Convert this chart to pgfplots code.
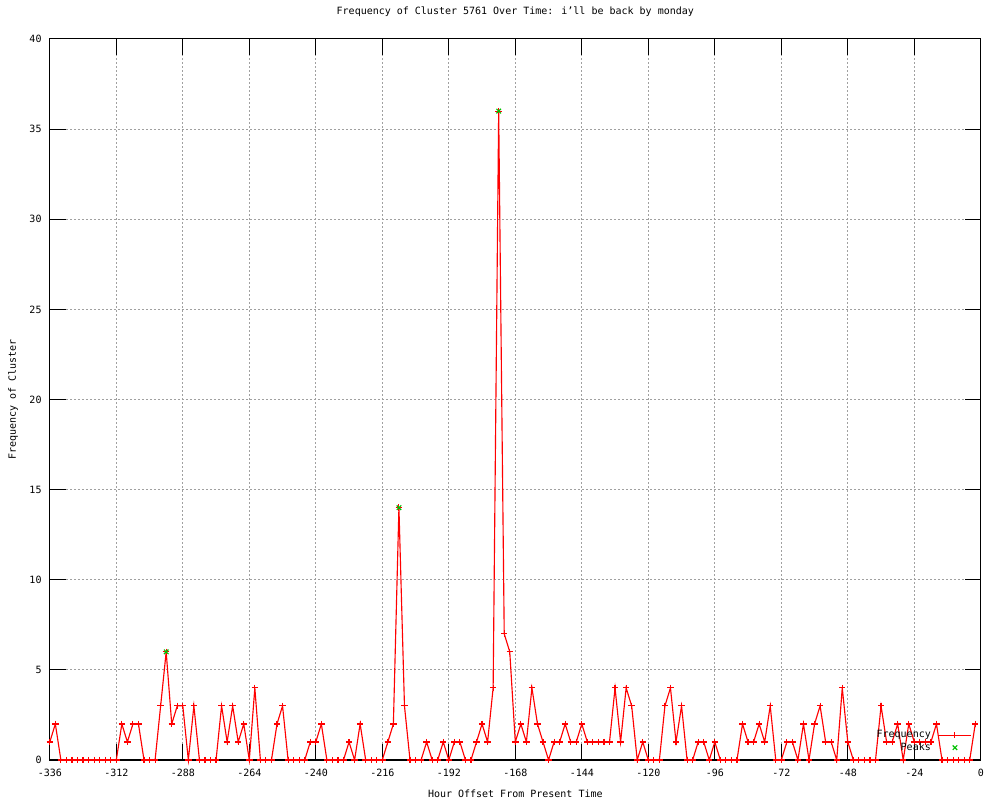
\documentclass[border=0pt]{standalone}
\usepackage{pgfplots}
\pgfplotsset{compat=1.18}
\usepackage{pgfplotstable}
\usepackage{fontspec}
\setmainfont{DejaVu Sans Mono}
\definecolor{gpred}{RGB}{255,0,0}
\definecolor{gpgreen}{RGB}{0,192,0}
\definecolor{gpgrid}{RGB}{160,160,160}

\pgfplotsset{
  freqimg/.style={legend image code/.code={\draw[gpred, line width=0.85pt, mark=+, mark size=2.4pt, mark options={solid, gpred, line width=0.85pt}, mark repeat=2, mark phase=2] plot coordinates {(0pt,0pt) (12.4pt,0pt) (24.75pt,0pt)};}},
  peakimg/.style={legend image code/.code={\path (0pt,0pt) (24.75pt,0pt); \draw[gpgreen, only marks, mark=x, mark size=2.4pt, mark options={solid, gpgreen, line width=0.85pt}] plot coordinates {(12.4pt,0pt)};}},
}

\pgfplotstableread{
h f
-336 1
-334 2
-332 0
-330 0
-328 0
-326 0
-324 0
-322 0
-320 0
-318 0
-316 0
-314 0
-312 0
-310 2
-308 1
-306 2
-304 2
-302 0
-300 0
-298 0
-296 3
-294 6
-292 2
-290 3
-288 3
-286 0
-284 3
-282 0
-280 0
-278 0
-276 0
-274 3
-272 1
-270 3
-268 1
-266 2
-264 0
-262 4
-260 0
-258 0
-256 0
-254 2
-252 3
-250 0
-248 0
-246 0
-244 0
-242 1
-240 1
-238 2
-236 0
-234 0
-232 0
-230 0
-228 1
-226 0
-224 2
-222 0
-220 0
-218 0
-216 0
-214 1
-212 2
-210 14
-208 3
-206 0
-204 0
-202 0
-200 1
-198 0
-196 0
-194 1
-192 0
-190 1
-188 1
-186 0
-184 0
-182 1
-180 2
-178 1
-176 4
-174 36
-172 7
-170 6
-168 1
-166 2
-164 1
-162 4
-160 2
-158 1
-156 0
-154 1
-152 1
-150 2
-148 1
-146 1
-144 2
-142 1
-140 1
-138 1
-136 1
-134 1
-132 4
-130 1
-128 4
-126 3
-124 0
-122 1
-120 0
-118 0
-116 0
-114 3
-112 4
-110 1
-108 3
-106 0
-104 0
-102 1
-100 1
-98 0
-96 1
-94 0
-92 0
-90 0
-88 0
-86 2
-84 1
-82 1
-80 2
-78 1
-76 3
-74 0
-72 0
-70 1
-68 1
-66 0
-64 2
-62 0
-60 2
-58 3
-56 1
-54 1
-52 0
-50 4
-48 1
-46 0
-44 0
-42 0
-40 0
-38 0
-36 3
-34 1
-32 1
-30 2
-28 0
-26 2
-24 1
-22 1
-20 1
-18 1
-16 2
-14 0
-12 0
-10 0
-8 0
-6 0
-4 0
-2 2
}\freqdata

\pgfplotstableread{
h f
-294 6
-210 14
-174 36
}\peakdata

\begin{document}
\begin{tikzpicture}[font=\fontsize{7.5pt}{9pt}\selectfont]
\useasboundingbox (0,0) rectangle (750pt,600pt);
\begin{axis}[
  at={(37.35pt,30pt)}, anchor=south west,
  scale only axis, width=698.25pt, height=540.75pt,
  xmin=-336, xmax=0, ymin=0, ymax=40,
  xtick={-336,-312,...,0},
  xticklabels={-336,-312,-288,-264,-240,-216,-192,-168,-144,-120,-96,-72,-48,-24,0},
  ytick={0,5,10,15,20,25,30,35,40},
  yticklabels={0,5,10,15,20,25,30,35,40},
  major tick length=12pt,
  tick style={black, line width=0.75pt},
  axis line style={black, line width=0.75pt},
  grid=major,
  grid style={gpgrid, line width=0.75pt, dash pattern=on 1.5pt off 1.5pt},
  xticklabel style={anchor=center, yshift=-9.75pt, font=\fontsize{7.5pt}{9pt}\selectfont},
  yticklabel style={anchor=east, inner sep=0pt, xshift=-6pt, font=\fontsize{7.5pt}{9pt}\selectfont},
  title={Frequency of Cluster 5761 Over Time: i’ll be back by monday},
  title style={at={(axis description cs:0.5,1.027)}, anchor=center, font=\fontsize{7.5pt}{9pt}\selectfont},
  xlabel={Hour Offset From Present Time},
  xlabel style={at={(axis description cs:0.5,-0.0465)}, anchor=center, font=\fontsize{7.5pt}{9pt}\selectfont},
  ylabel={Frequency of Cluster},
  ylabel style={at={(axis description cs:-0.0395,0.5)}, anchor=center, font=\fontsize{7.5pt}{9pt}\selectfont},
  clip=false,
  legend plot pos=right,
  legend cell align=right,
  legend style={draw=none, fill=none, at={(axis description cs:0.9905,0.0105)}, anchor=south east,
    inner sep=0pt, outer sep=0pt, row sep=2.2pt, column sep=5.25pt,
    font=\fontsize{7.5pt}{9pt}\selectfont, nodes={inner sep=0pt}},
]
\addplot[gpred, line width=0.85pt, mark=+, mark size=2.4pt, mark options={solid, gpred, line width=0.85pt}, freqimg]
  table[x=h, y=f] {\freqdata};
\addlegendentry{Frequency}
\addplot[gpgreen, only marks, mark=x, mark size=2.4pt, mark options={solid, gpgreen, line width=0.85pt}, peakimg]
  table[x=h, y=f] {\peakdata};
\addlegendentry{Peaks}
\end{axis}
\end{tikzpicture}
\end{document}
